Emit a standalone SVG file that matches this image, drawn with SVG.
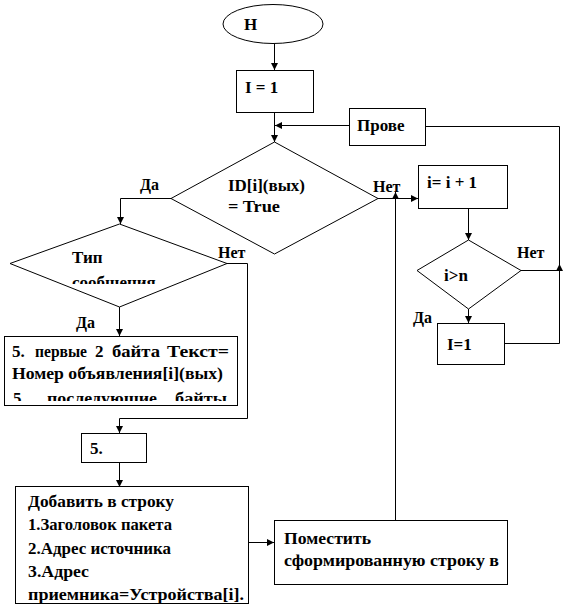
<svg xmlns="http://www.w3.org/2000/svg" width="566" height="616" viewBox="0 0 566 616">
<style>
.s{fill:#fff;stroke:#000;stroke-width:1}
.c{fill:none;stroke:#000;stroke-width:1}
.a{marker-end:url(#ah)}
.t{font-family:'Liberation Serif','Times New Roman',serif;font-weight:700;font-size:16px;fill:#000}
.b{font-size:17px}
</style>
<defs>
<marker id="ah" viewBox="0 0 8 8" refX="8" refY="4" markerWidth="7" markerHeight="7" markerUnits="userSpaceOnUse" orient="auto">
<path d="M0,0 L8,4 L0,8 z" fill="#000"/>
</marker>
<clipPath id="clipTip"><rect x="0" y="240" width="240" height="44"/></clipPath>
<clipPath id="clip5"><rect x="5" y="337" width="231" height="64"/></clipPath>
</defs>
<rect width="566" height="616" fill="#fff"/>

<g id="connectors">
<path class="c a" d="M274.5,44 V70"/>
<path class="c a" d="M274.5,112 V142"/>
<path class="c a" d="M349,125.5 H275"/>
<path class="c a" d="M171,198.5 H120.5 V224"/>
<path class="c a" d="M378,198.5 H418"/>
<path class="c a" d="M395.5,520 V192"/>
<path class="c a" d="M468.5,208 V240"/>
<path class="c" d="M425,126.5 H559.5 V270.5 H521"/>
<path class="c a" d="M468.5,309 V323"/>
<path class="c a" d="M504,343.5 H559.5 V264"/>
<path class="c a" d="M119.5,307 V336"/>
<path class="c a" d="M227,263.5 H247.5 V418.5 H119.5 V433"/>
<path class="c a" d="M119.5,462 V487"/>
<path class="c a" d="M248,542.5 H274"/>
</g>

<g class="t">
<g id="start">
<ellipse class="s" cx="273" cy="24" rx="50" ry="19.5"/>
<text x="244" y="30" class="b">Н</text>
</g>

<g id="init">
<rect class="s" x="236.5" y="70.5" width="77" height="42"/>
<text x="245" y="93" class="b">I = 1</text>
</g>

<g id="check">
<rect class="s" x="349.5" y="108.5" width="76" height="37"/>
<text x="357" y="131" class="b">Прове</text>
</g>

<g id="cond1">
<polygon class="s" points="274.5,142 378,198.5 274.5,254 171,198.5"/>
<text x="228" y="191" class="b" textLength="77" lengthAdjust="spacingAndGlyphs">ID[i](вых)</text>
<text x="228" y="212" class="b" textLength="52" lengthAdjust="spacingAndGlyphs">= True</text>
<text x="140" y="190">Да</text>
<text x="373" y="192">Нет</text>
</g>

<g id="inc">
<rect class="s" x="418.5" y="165.5" width="89" height="43"/>
<text x="427" y="188" class="b">i= i + 1</text>
</g>

<g id="cond2">
<polygon class="s" points="468.5,240 521,270.5 468.5,309 417,270.5"/>
<text x="444" y="281" class="b">i&gt;n</text>
<text x="517" y="258">Нет</text>
<text x="413" y="323">Да</text>
</g>

<g id="reset">
<rect class="s" x="437.5" y="323.5" width="67" height="41"/>
<text x="447" y="350" class="b">I=1</text>
</g>

<g id="cond3">
<polygon class="s" points="119.5,224 227,263.5 119.5,307 10,263.5"/>
<g clip-path="url(#clipTip)">
<text x="72" y="263" class="b">Тип</text>
<text x="72" y="288" class="b">сообщения</text>
</g>
<text x="218" y="258">Нет</text>
<text x="76" y="328">Да</text>
</g>

<g id="box5a">
<rect class="s" x="4.5" y="336.5" width="233" height="69"/>
<g clip-path="url(#clip5)" class="b">
<text x="12" y="357">5.</text>
<text x="35" y="357" textLength="52" lengthAdjust="spacingAndGlyphs">первые</text>
<text x="95" y="357">2</text>
<text x="112" y="357" textLength="48" lengthAdjust="spacingAndGlyphs">байта</text>
<text x="167" y="357" textLength="62" lengthAdjust="spacingAndGlyphs">Текст=</text>
<text x="12" y="379" textLength="211" lengthAdjust="spacingAndGlyphs">Номер объявления[i](вых)</text>
<text x="13" y="404">5.</text>
<text x="47" y="404" textLength="110" lengthAdjust="spacingAndGlyphs">последующие</text>
<text x="175" y="404" textLength="52" lengthAdjust="spacingAndGlyphs">байты</text>
</g>
</g>

<g id="box5b">
<rect class="s" x="81.5" y="433.5" width="65" height="29"/>
<text x="90" y="454" class="b">5.</text>
</g>

<g id="add" class="b">
<rect class="s" x="15.5" y="486.5" width="233" height="117"/>
<text x="28" y="507" textLength="146" lengthAdjust="spacingAndGlyphs">Добавить в строку</text>
<text x="28" y="530" textLength="144" lengthAdjust="spacingAndGlyphs">1.Заголовок пакета</text>
<text x="28" y="554" textLength="143" lengthAdjust="spacingAndGlyphs">2.Адрес источника</text>
<text x="28" y="577" textLength="61" lengthAdjust="spacingAndGlyphs">3.Адрес</text>
<text x="28" y="600" textLength="216" lengthAdjust="spacingAndGlyphs">приемника=Устройства[i].</text>
</g>

<g id="put" class="b">
<rect class="s" x="274.5" y="520.5" width="233" height="64"/>
<text x="284" y="544" textLength="87" lengthAdjust="spacingAndGlyphs">Поместить</text>
<text x="284" y="566" textLength="215" lengthAdjust="spacingAndGlyphs">сформированную строку в</text>
</g>
</g>
</svg>
